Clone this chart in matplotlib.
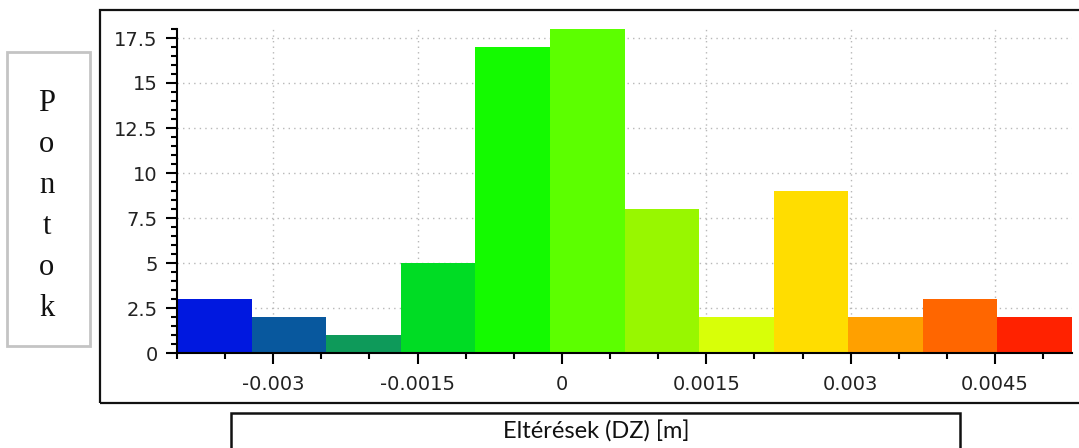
#!/bin/python3
# -*- coding: utf-8 -*-

import numpy as np
import matplotlib as mplt
mplt.use("Agg")
import matplotlib.pyplot as plt
from matplotlib.patches import Rectangle
from matplotlib.ticker import MultipleLocator, FixedLocator

# histogram of DZ deviations (m): 12 equal bins between min and max
dz_min = -0.0040
dz_max = 0.0053
counts = [3, 2, 1, 5, 17, 18, 8, 2, 9, 2, 3, 2]
bar_colors = ["#0018E0", "#08589E", "#0E9A5A", "#00DC24", "#14FA00", "#5CFF00",
              "#98F700", "#D8FF08", "#FFDD00", "#FFA000", "#FF6600", "#FF2200"]
x_ticks = [-0.003, -0.0015, 0, 0.0015, 0.003, 0.0045]
x_tick_labels = ["-0.003", "-0.0015", "0", "0.0015", "0.003", "0.0045"]
y_ticks = [0, 2.5, 5, 7.5, 10, 12.5, 15, 17.5]
y_tick_labels = ["0", "2.5", "5", "7.5", "10", "12.5", "15", "17.5"]
x_title = "Eltérések (DZ) [m]"
y_title = "Pontok"

W, H = 1079, 448
mplt.rcParams["axes.unicode_minus"] = False

fig = plt.figure(figsize=(W / 100, H / 100), dpi=100)


def box(x0, y0, x1, y1):
    # pixel box (top-left origin) -> figure fraction
    return (x0 / W, 1 - y1 / H, (x1 - x0) / W, (y1 - y0) / H)


# outer frame around the chart
l, b, w, h = box(100, 10, 1082, 403)
fig.add_artist(Rectangle((l, b), w, h, transform=fig.transFigure,
                         fill=False, edgecolor="#111111", linewidth=1.6))

# plot area
l, b, w, h = box(177, 29, 1072, 353)
ax = fig.add_axes([l, b, w, h])

edges = np.linspace(dz_min, dz_max, len(counts) + 1)
ax.bar(edges[:-1], counts, width=np.diff(edges), align="edge",
       color=bar_colors, edgecolor="none", zorder=3)

ax.set_xlim(dz_min, dz_max)
ax.set_ylim(0, 18)

ax.xaxis.set_major_locator(FixedLocator(x_ticks))
ax.set_xticklabels(x_tick_labels)
ax.xaxis.set_minor_locator(MultipleLocator(0.0005))
ax.yaxis.set_major_locator(FixedLocator(y_ticks))
ax.set_yticklabels(y_tick_labels)
ax.yaxis.set_minor_locator(MultipleLocator(0.5))

for side in ["top", "right"]:
    ax.spines[side].set_visible(False)
for side in ["left", "bottom"]:
    ax.spines[side].set_linewidth(1.5)
    ax.spines[side].set_zorder(4)

ax.tick_params(which="major", length=8, width=1.5, color="black",
               labelsize=14, labelcolor="#222222")
ax.tick_params(which="minor", length=4.5, width=1.5, color="black")
ax.tick_params(axis="x", which="major", pad=8)
ax.tick_params(axis="y", which="major", pad=6)

# dotted grid at the major ticks
ax.grid(True, which="major", linestyle=(0, (1, 3)), color="#b8b8b8",
        linewidth=1.0, zorder=0)
ax.set_axisbelow(True)

# y title: letters stacked in a gray box
l, b, w, h = box(7, 52, 90, 346)
fig.add_artist(Rectangle((l, b), w, h, transform=fig.transFigure,
                         fill=False, edgecolor="#c4c4c4", linewidth=2))
fig.text(47 / W, 1 - 206 / H, "\n".join(y_title), ha="center", va="center",
         family="Liberation Serif", fontsize=22, linespacing=1.54,
         color="#111111")

# x title in its own box
l, b, w, h = box(231, 413, 960, 452)
fig.add_artist(Rectangle((l, b), w, h, transform=fig.transFigure,
                         fill=False, edgecolor="#111111", linewidth=1.8))
fig.text(596 / W, 1 - 432 / H, x_title, ha="center", va="center",
         family="Lato", fontsize=17, color="#111111")

plt.savefig("out.png", dpi=100)
